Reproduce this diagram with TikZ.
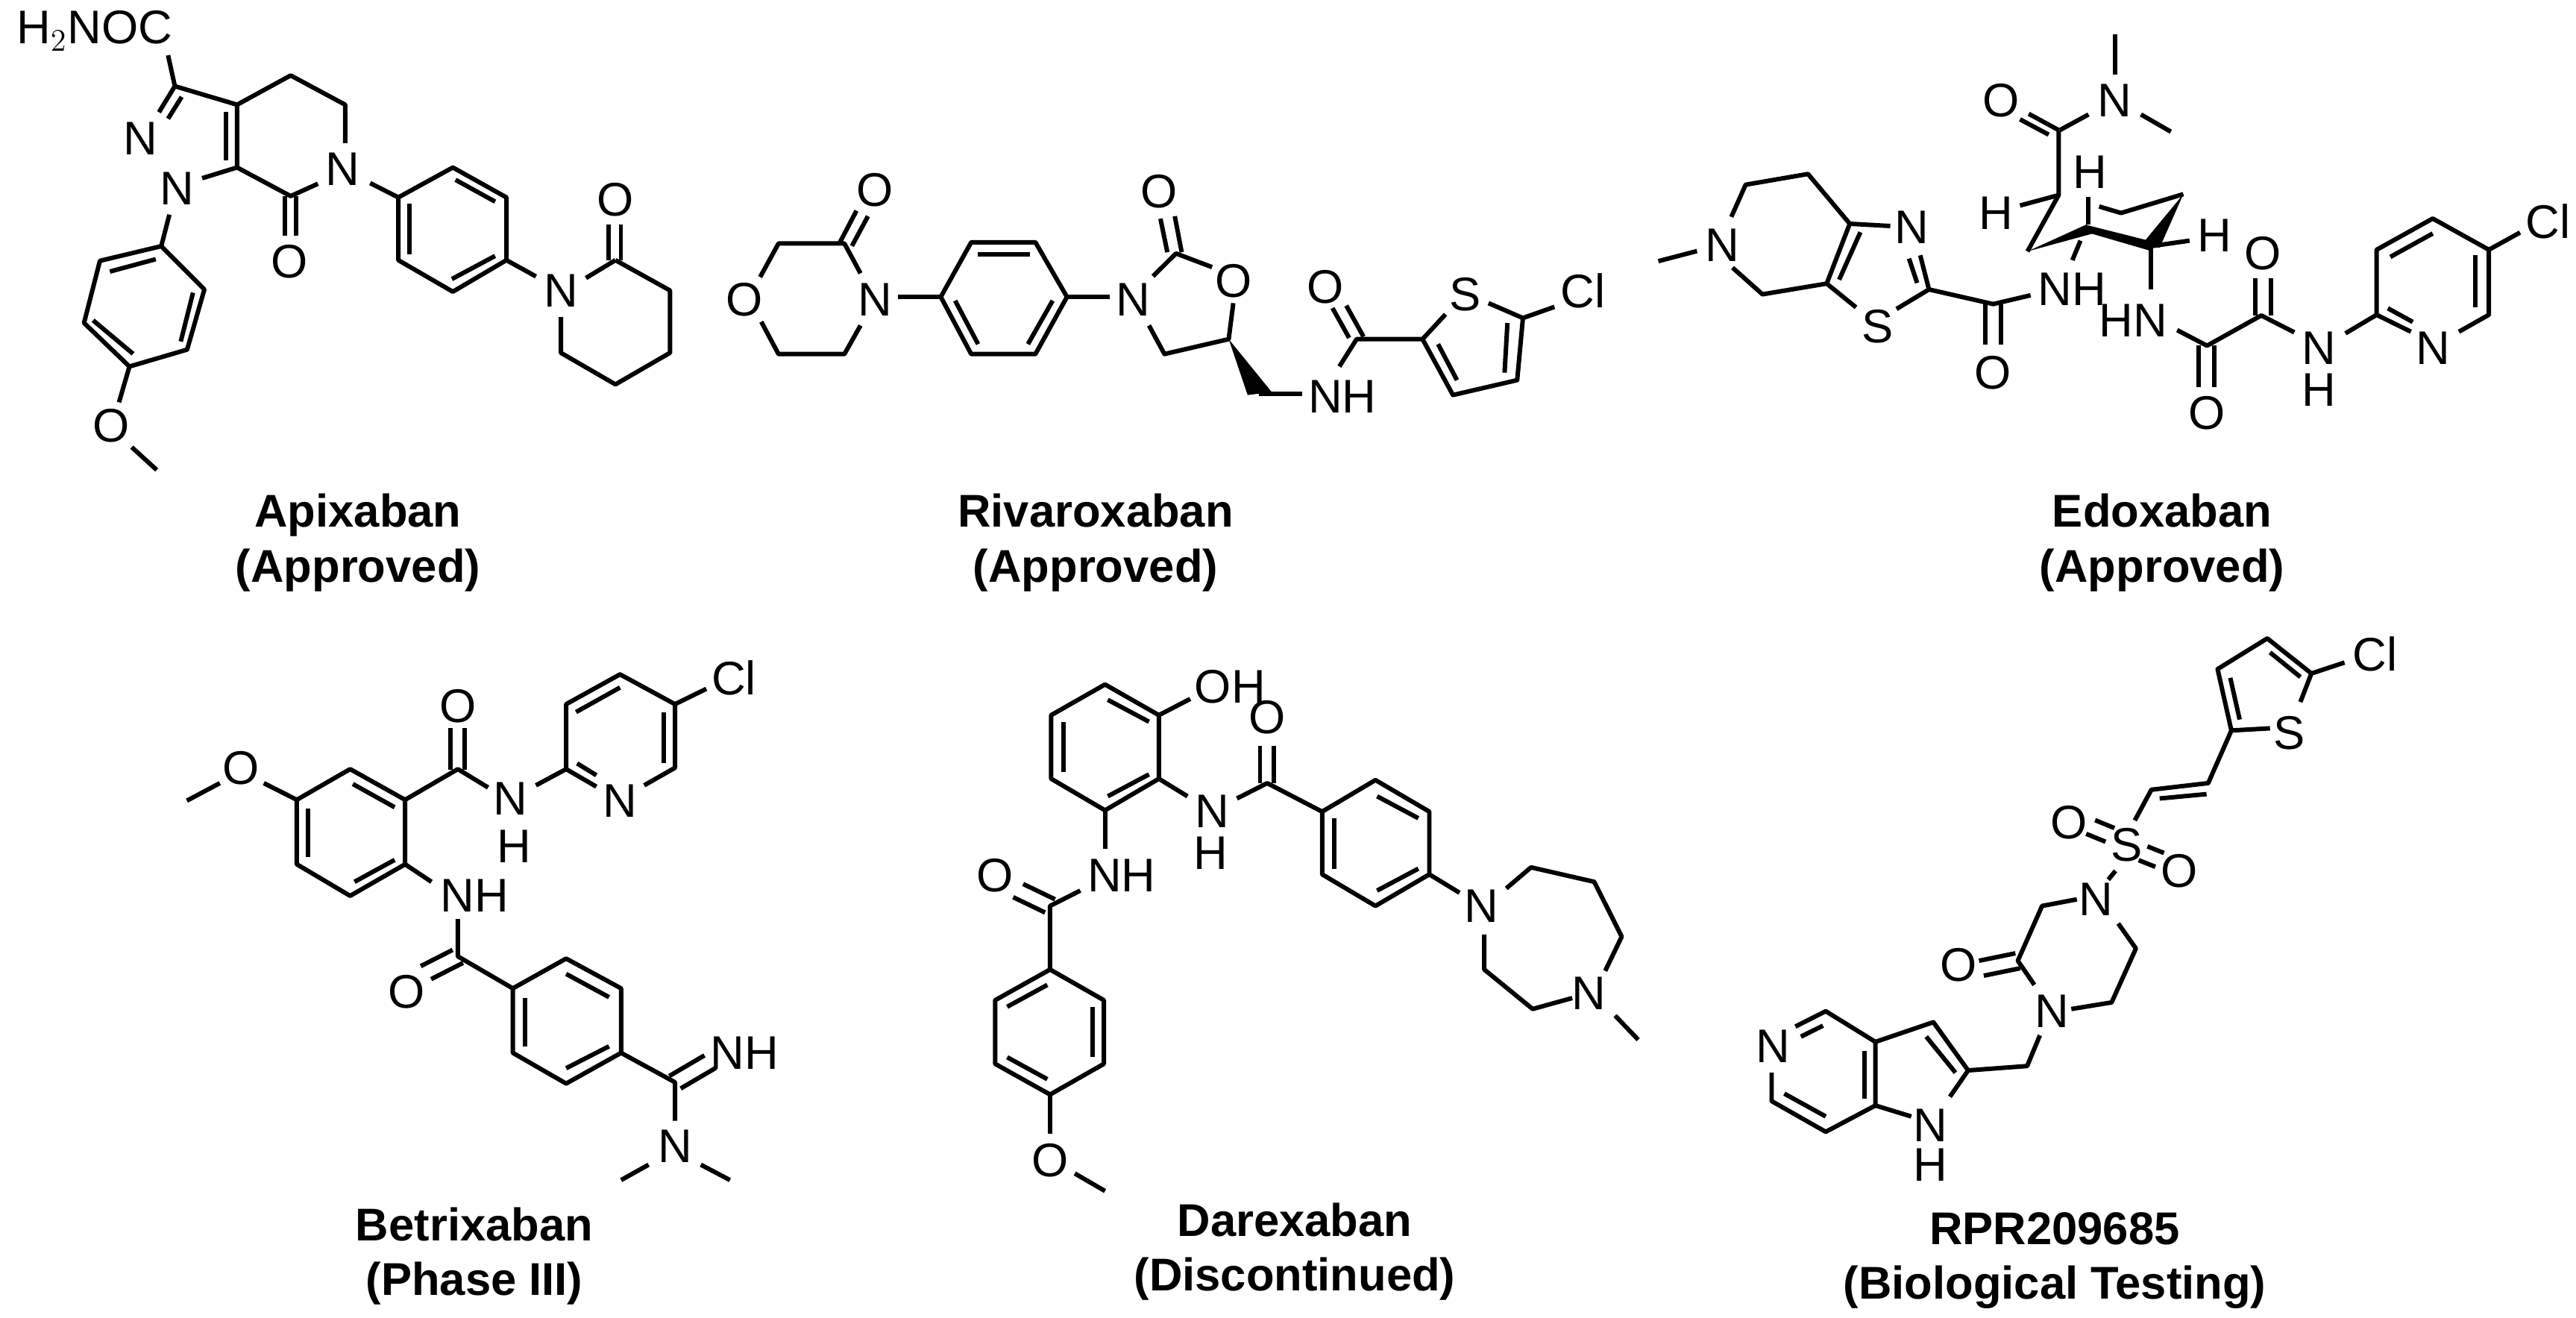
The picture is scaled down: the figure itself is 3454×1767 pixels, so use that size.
\documentclass[tikz,border=0pt]{standalone}
\usepackage{fontspec}
\setmainfont{Liberation Sans}
\usetikzlibrary{calc}
\newcommand\dbond[2]{\draw[bnd] ($(#1)!5pt!90:(#2)$) -- ($(#2)!5pt!-90:(#1)$); \draw[bnd] ($(#1)!5pt!-90:(#2)$) -- ($(#2)!5pt!90:(#1)$);}
\tikzset{bnd/.style={line width=1.7pt,line join=round},
 atm/.style={font=\fontsize{18}{18}\selectfont,inner sep=0pt},
 ttl/.style={font=\fontsize{17.5}{21}\selectfont\bfseries,align=center}}
\begin{document}
\begin{tikzpicture}[x=0.01cm,y=-0.01cm]
\useasboundingbox[fill=white] (0,0) rectangle (3454,1767);
% ================= Apixaban
\begin{scope}[xscale=0.609,yscale=0.436]
\node[atm] (a1) at (208,95) {H$_2$NOC};
\node[atm] (a2) at (310,425) {N};
\node[atm] (a3) at (390,580) {N};
\node[atm] (a4) at (638,805) {O};
\node[atm] (a5) at (755,520) {N};
\node[atm] (a6) at (245,1310) {O};
\node[atm] (a7) at (1235,895) {N};
\node[atm] (a8) at (1355,615) {O};
\draw[bnd] (370,170)--(385,265)--(522,322)--(522,515);
\draw[bnd] (385,265)--(350,345); \draw[bnd] (400,298)--(370,365);
\draw[bnd] (497,345)--(497,492);
\draw[bnd] (522,322)--(640,232)--(760,322)--(760,440);
\draw[bnd] (445,548)--(522,515)--(640,603)--(700,565);
\draw[bnd] (627,603)--(627,725); \draw[bnd] (652,603)--(652,725);
\draw[bnd] (373,660)--(355,757);
\draw[bnd] (355,757)--(220,802)--(185,993)--(285,1127)--(412,1075)--(450,890)--cycle;
\draw[bnd] (242,835)--(343,797); \draw[bnd] (205,985)--(293,1088); \draw[bnd] (425,900)--(398,1050);
\draw[bnd] (285,1127)--(262,1237); \draw[bnd] (290,1375)--(345,1445);
\draw[bnd] (815,563)--(877,607);
\draw[bnd] (877,607)--(997,515)--(1115,607)--(1115,800)--(997,897)--(877,800)--cycle;
\draw[bnd] (1003,553)--(1090,620); \draw[bnd] (902,627)--(902,782); \draw[bnd] (995,858)--(1090,787);
\draw[bnd] (1115,800)--(1180,850); \draw[bnd] (1290,855)--(1355,800);
\draw[bnd] (1340,800)--(1340,690); \draw[bnd] (1367,800)--(1367,690);
\draw[bnd] (1355,800)--(1475,893)--(1475,1085)--(1355,1182)--(1235,1085)--(1235,975);
\end{scope}
\node[ttl] (t1) at (480,728) {Apixaban\\(Approved)};
% ================= Rivaroxaban
\begin{scope}[shift={(950,150)},xscale=0.769,yscale=0.333]
\node[atm] (r1) at (62,755) {O};
\node[atm] (r2) at (290,755) {N};
\node[atm] (r3) at (290,315) {O};
\node[atm] (r4) at (740,755) {N};
\node[atm] (r5) at (915,680) {O};
\node[atm] (r6) at (785,320) {O};
\node[atm] (r7) at (1075,705) {O};
\node[atm] (r8) at (1320,735) {S};
\node[atm] (r9) at (1525,720) {Cl};
\node[atm] (r10) at (1105,1145) {NH};
\draw[bnd] (90,665)--(122,530)--(237,530)--(265,650);
\draw[bnd] (265,860)--(237,975)--(122,975)--(92,845);
\draw[bnd] (228,530)--(258,398); \draw[bnd] (250,540)--(278,420);
\draw[bnd] (330,745)--(405,745);
\draw[bnd] (458,525)--(570,525)--(625,745)--(570,975)--(458,975)--(405,745)--cycle;
\draw[bnd] (470,575)--(560,575); \draw[bnd] (430,760)--(470,935); \draw[bnd] (600,760)--(557,935);
\draw[bnd] (625,745)--(700,745);
\draw[bnd] (775,662)--(815,570)--(878,625);
\draw[bnd] (800,565)--(788,430); \draw[bnd] (825,565)--(813,420);
\draw[bnd] (915,770)--(907,915)--(795,975)--(768,860);
\fill (907,915)--(940,1140)--(982,1128)--cycle;
\draw[bnd] (960,1135)--(1035,1135);
\draw[bnd] (1100,1025)--(1130,915)--(1245,915);
\draw[bnd] (1117,910)--(1088,790); \draw[bnd] (1142,905)--(1112,780);
\draw[bnd] (1245,915)--(1285,815); \draw[bnd] (1360,770)--(1420,830)--(1410,1080)--(1298,1140)--(1245,915);
\draw[bnd] (1393,850)--(1388,1050); \draw[bnd] (1272,935)--(1305,1080);
\draw[bnd] (1420,830)--(1475,785);
\end{scope}
\node[ttl] (t2) at (1469,728) {Rivaroxaban\\(Approved)};
% ================= Edoxaban
\begin{scope}[shift={(2150,0)},xscale=0.836,yscale=0.436]
\node[atm] (e1) at (190,755) {N};
\node[atm] (e2) at (495,700) {N};
\node[atm] (e3) at (440,1005) {S};
\node[atm] (e4) at (752,890) {NH};
\node[atm] (e5) at (625,1145) {O};
\node[atm] (e6) at (630,655) {H};
\node[atm] (e7) at (780,530) {H};
\node[atm] (e8) at (980,725) {H};
\node[atm] (e9) at (638,310) {O};
\node[atm] (e10) at (820,310) {N};
\node[atm] (e11) at (850,985) {HN};
\node[atm] (e12) at (1058,780) {O};
\node[atm] (e13) at (968,1270) {O};
\node[atm] (e14) at (1148,1070) {N};
\node[atm] (e15) at (1148,1200) {H};
\node[atm] (e16) at (1330,1070) {N};
\node[atm] (e17) at (1515,680) {Cl};
\draw[bnd] (88,803)--(150,772);
\draw[bnd] (205,667)--(228,568)--(328,535)--(395,688);
\draw[bnd] (207,823)--(255,905)--(358,872);
\draw[bnd] (395,688)--(460,695); \draw[bnd] (395,688)--(358,872)--(405,945);
\draw[bnd] (412,714)--(378,860);
\draw[bnd] (470,950)--(522,890)--(508,785); \draw[bnd] (490,795)--(503,870);
\draw[bnd] (522,890)--(625,935)--(685,908);
\draw[bnd] (612,935)--(612,1060); \draw[bnd] (637,935)--(637,1060);
\draw[bnd] (668,632)--(730,600)--(730,400);
\draw[bnd] (730,600)--(680,773);
\draw[bnd] (730,400)--(682,350); \draw[bnd] (714,414)--(668,367);
\draw[bnd] (732,400)--(778,352);
\draw[bnd] (820,230)--(820,105); \draw[bnd] (862,352)--(910,405);
\draw[bnd] (778,605)--(778,690);
\draw[bnd] (795,635)--(830,655)--(930,597);
\fill (680,773)--(775,690)--(785,718)--cycle;
\fill (775,692)--(885,745)--(875,770)--(782,718)--cycle;
\fill (930,597)--(865,748)--(892,762)--cycle;
\draw[bnd] (765,740)--(752,800);
\draw[bnd] (878,757)--(940,740);
\draw[bnd] (878,757)--(878,890);
\draw[bnd] (920,1015)--(968,1063)--(1055,970)--(1108,1022);
\draw[bnd] (955,1063)--(955,1190); \draw[bnd] (980,1063)--(980,1190);
\draw[bnd] (1045,970)--(1045,855); \draw[bnd] (1070,970)--(1070,855);
\draw[bnd] (1190,1025)--(1240,968);
\draw[bnd] (1295,1020)--(1240,968)--(1240,768)--(1330,672)--(1420,768)--(1420,968)--(1372,1020);
\draw[bnd] (1258,948)--(1298,990); \draw[bnd] (1262,790)--(1330,718); \draw[bnd] (1398,785)--(1398,945);
\draw[bnd] (1420,768)--(1470,715);
\end{scope}
\node[ttl] (t3) at (2899,728) {Edoxaban\\(Approved)};
% ================= Betrixaban
\begin{scope}[shift={(0,850)},xscale=0.737,yscale=0.588]
\node[atm] (b1) at (438,305) {O};
\node[atm] (b2) at (833,165) {O};
\node[atm] (b3) at (928,375) {N};
\node[atm] (b4) at (935,485) {H};
\node[atm] (b5) at (1128,380) {N};
\node[atm] (b6) at (1335,100) {Cl};
\node[atm] (b7) at (863,597) {NH};
\node[atm] (b8) at (740,815) {O};
\node[atm] (b9) at (1355,955) {NH};
\node[atm] (b10) at (1228,1168) {N};
\draw[bnd] (340,380)--(400,340); \draw[bnd] (480,340)--(540,378);
\draw[bnd] (540,378)--(637,308)--(737,378)--(737,525)--(637,597)--(540,525)--cycle;
\draw[bnd] (560,398)--(560,508); \draw[bnd] (642,342)--(718,395); \draw[bnd] (645,565)--(718,515);
\draw[bnd] (737,378)--(833,308)--(888,350);
\draw[bnd] (820,310)--(820,215); \draw[bnd] (845,310)--(845,215);
\draw[bnd] (975,345)--(1030,308);
\draw[bnd] (1085,348)--(1030,308)--(1030,160)--(1128,92)--(1228,160)--(1228,305)--(1172,345);
\draw[bnd] (1050,295)--(1085,322); \draw[bnd] (1048,178)--(1128,122); \draw[bnd] (1208,178)--(1208,295);
\draw[bnd] (1228,160)--(1285,125);
\draw[bnd] (737,525)--(785,565);
\draw[bnd] (833,650)--(833,735)--(933,808);
\dbond{833,735}{775,772}
\draw[bnd] (933,808)--(1030,740)--(1130,808)--(1130,955)--(1030,1025)--(933,955)--cycle;
\draw[bnd] (1030,775)--(1108,828); \draw[bnd] (955,830)--(955,940); \draw[bnd] (1030,990)--(1108,940);
\draw[bnd] (1130,955)--(1228,1022)--(1228,1110);
\dbond{1228,1022}{1292,975}
\draw[bnd] (1180,1210)--(1130,1245); \draw[bnd] (1275,1210)--(1328,1245);
\end{scope}
\node[ttl] (t4) at (636,1684) {Betrixaban\\(Phase III)};
% ================= Darexaban
\begin{scope}[shift={(1150,850)},xscale=0.737,yscale=0.588]
\node[atm,anchor=west] (d1) at (612,120) {OH};
\node[atm] (d2) at (745,190) {O};
\node[atm] (d3) at (645,405) {N};
\node[atm] (d4) at (642,500) {H};
\node[atm] (d5) at (480,550) {NH};
\node[atm] (d6) at (250,550) {O};
\node[atm] (d7) at (1135,620) {N};
\node[atm] (d8) at (1330,820) {N};
\node[atm] (d9) at (350,1200) {O};
\draw[bnd] (450,115)--(548,185)--(548,330)--(450,402)--(352,330)--(352,185)--cycle;
\draw[bnd] (455,150)--(530,200); \draw[bnd] (375,200)--(375,315); \draw[bnd] (455,370)--(530,320);
\draw[bnd] (548,185)--(605,148);
\draw[bnd] (548,330)--(600,370); \draw[bnd] (690,375)--(745,340)--(845,405);
\draw[bnd] (732,340)--(732,255); \draw[bnd] (757,340)--(757,255);
\draw[bnd] (845,405)--(942,333)--(1040,405)--(1040,548)--(942,620)--(845,548)--cycle;
\draw[bnd] (945,370)--(1020,420); \draw[bnd] (867,420)--(867,535); \draw[bnd] (945,585)--(1020,535);
\draw[bnd] (1040,548)--(1095,590);
\draw[bnd] (1180,580)--(1225,532)--(1340,565)--(1390,690)--(1360,768);
\draw[bnd] (1300,830)--(1228,855)--(1140,765)--(1140,685);
\draw[bnd] (1378,870)--(1420,925);
\draw[bnd] (450,402)--(450,490);
\draw[bnd] (405,585)--(350,620)--(350,765);
\dbond{350,620}{292,585}
\draw[bnd] (350,765)--(448,835)--(448,980)--(350,1050)--(250,980)--(250,835)--cycle;
\draw[bnd] (272,850)--(345,800); \draw[bnd] (428,850)--(428,965); \draw[bnd] (272,965)--(345,1015);
\draw[bnd] (350,1050)--(350,1140); \draw[bnd] (395,1230)--(450,1270);
\end{scope}
\node[ttl] (t5) at (1736,1678) {Darexaban\\(Discontinued)};
% ================= RPR209685
\begin{scope}[shift={(2300,850)},xscale=0.740,yscale=0.588]
\node[atm] (p1) at (1195,45) {Cl};
\node[atm] (p2) at (1040,225) {S};
\node[atm] (p3) at (640,430) {O};
\node[atm] (p4) at (745,480) {S};
\node[atm] (p5) at (840,540) {O};
\node[atm] (p6) at (690,605) {N};
\node[atm] (p7) at (440,755) {O};
\node[atm] (p8) at (610,860) {N};
\node[atm] (p9) at (105,940) {N};
\node[atm] (p10) at (390,1120) {N};
\node[atm] (p11) at (390,1210) {H};
\draw[bnd] (1005,215)--(935,220)--(910,80)--(1000,10)--(1080,90)--(1060,155);
\draw[bnd] (933,100)--(950,195); \draw[bnd] (1005,42)--(1060,98);
\draw[bnd] (1080,90)--(1140,65);
\draw[bnd] (935,220)--(893,340)--(790,355)--(760,425); \draw[bnd] (805,375)--(890,365);
\dbond{715,458}{680,440}
\dbond{775,500}{805,515}
\draw[bnd] (725,540)--(712,560);
\draw[bnd] (655,605)--(592,620)--(548,745)--(578,800);
\dbond{548,745}{482,762}
\draw[bnd] (645,855)--(718,840)--(762,717)--(730,660);
\draw[bnd] (588,915)--(565,985)--(458,995);
\draw[bnd] (458,995)--(395,885)--(290,930)--(290,1075)--(355,1100);
\draw[bnd] (425,1055)--(458,995);
\draw[bnd] (382,918)--(435,1000); \draw[bnd] (270,950)--(270,1060);
\draw[bnd] (290,930)--(200,860)--(145,895);
\draw[bnd] (102,1000)--(102,1065)--(200,1135)--(290,1075);
\draw[bnd] (195,893)--(155,918); \draw[bnd] (125,1048)--(200,1100);
\end{scope}
\node[ttl] (t6) at (2755,1690) {RPR209685\\(Biological Testing)};
\end{tikzpicture}
\end{document}
